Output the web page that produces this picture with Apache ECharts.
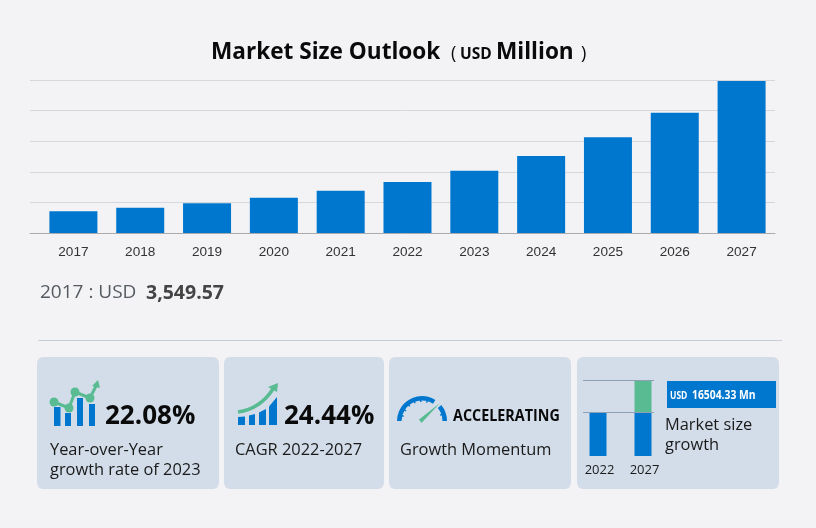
<!DOCTYPE html>
<html><head><meta charset="utf-8">
<style>html,body{margin:0;padding:0;background:#f3f3f6}#c{width:816px;height:528px}</style>
<script src="https://cdn.jsdelivr.net/npm/echarts@6/dist/echarts.min.js"></script>
</head><body><div id="c"></div>
<script>
const years = ['2017','2018','2019','2020','2021','2022','2023','2024','2025','2026','2027'];
const marketSize = [3549.57,4135,4853,5768,6912,8316,10152,12582,15637,19658,24820];
const miniYears = ['2022','2027'];
const miniBase = [44,44];
const miniGrowth = [0,32];
const BLUE='#0077cf', GREEN='#58bb92', CARD='#d3dde9';
const SANS='"Open Sans","Noto Sans",sans-serif';
const chart = echarts.init(document.getElementById('c'),null,{renderer:'canvas'});

function T(x,y,text,size,weight,color,sx){
  const el={type:'text',z:20,x:x,y:y,style:{text:text,font:(weight||'normal')+' '+size+'px '+SANS,fill:color||'#1a1a1a',verticalAlign:'middle'}};
  if(sx) el.scaleX=sx;
  return el;
}
function card(x,w){return {type:'rect',z:0,shape:{x:x,y:357,width:w,height:132,r:6},style:{fill:CARD}};}
function R(x,y,w,h,fill){return {type:'rect',z:15,shape:{x:x,y:y,width:w,height:h},style:{fill:fill||BLUE}};}
function L(x1,y1,x2,y2,stroke,lw){return {type:'line',z:15,shape:{x1:x1,y1:y1,x2:x2,y2:y2},style:{stroke:stroke,lineWidth:lw||1}};}
function poly(points,fill){return {type:'polygon',z:16,shape:{points:points},style:{fill:fill}};}
function dot(x,y,r){return {type:'circle',z:17,shape:{cx:x,cy:y,r:r},style:{fill:GREEN}};}

const gfx = [
  card(37,182),card(224,160),card(389,182),card(577,202),
  L(38,340.5,782,340.5,'#c6ccd9',1),
  // title
  T(211,53,'Market Size Outlook',22.6,'bold','#0a0a0a'),
  T(451,54,'(',18,'normal','#0a0a0a'),
  T(460,55,'USD',15.5,'bold','#0a0a0a'),
  T(496,53,'Million',22.6,'bold','#0a0a0a'),
  T(581,54,')',18,'normal','#0a0a0a'),
  // current value
  T(40,293,'2017 : USD',19,'normal','#555a60'),
  T(146,293,'3,549.57',19.5,'bold','#444'),
  // card 1
  R(54,407,6.5,19),R(65,413,6,13),R(77,398,6,28),R(89,404,6,22),
  {type:'polyline',z:16,shape:{points:[[54,402],[69,408],[75,392],[90,398],[96,386]]},style:{stroke:GREEN,lineWidth:3,fill:null}},
  dot(54,402,4.5),dot(69,408,4.5),dot(75,392,4.5),dot(90,398,4.5),
  poly([[98,380],[100,388],[92,386]],GREEN),
  T(105,417,'22.08%',26,'bold','#0a0a0a'),
  T(50,450,'Year-over-Year',16.4),
  T(50,470,'growth rate of 2023',16.4),
  // card 2
  poly([[238,417],[245,416.5],[245,425],[238,425]],BLUE),
  poly([[249,415.5],[255,414],[255,425],[249,425]],BLUE),
  poly([[259,412.5],[266,409],[266,425],[259,425]],BLUE),
  poly([[269,406.5],[277,397],[277,425],[269,425]],BLUE),
  {type:'bezierCurve',z:16,shape:{x1:238,y1:412,x2:273,y2:389,cpx1:260,cpy1:409},style:{stroke:GREEN,lineWidth:3.5,fill:null}},
  poly([[278,383],[277,392],[268,387]],GREEN),
  T(284,417,'24.44%',26,'bold','#0a0a0a'),
  T(235,450,'CAGR 2022-2027',16.4),
  // card 3
  {type:'sector',z:15,shape:{cx:422,cy:421,r:25,r0:20.5,startAngle:Math.PI,endAngle:Math.PI*1.68},style:{fill:BLUE}},
  {type:'sector',z:15,shape:{cx:422,cy:421,r:25,r0:20.5,startAngle:Math.PI*1.78,endAngle:Math.PI*2},style:{fill:BLUE}},
  ...[1.08,1.18,1.28,1.38,1.48,1.58,1.9].map(a=>L(422+Math.cos(a*Math.PI)*21,421+Math.sin(a*Math.PI)*21,422+Math.cos(a*Math.PI)*19,421+Math.sin(a*Math.PI)*19,BLUE,1.5)),
  poly([[419,419.5],[421.5,423],[440,403]],GREEN),
  T(453,417,'ACCELERATING',15.5,'bold','#0a0a0a',0.925),
  T(400,450,'Growth Momentum',16.4),
  // card 4
  L(583,380.5,654,380.5,'#8f9fb5',1),
  L(583,412.5,654,412.5,'#8f9fb5',1),
  R(667,381,109,27,BLUE),
  T(670,396,'USD',10,'bold','#fff',0.85),
  T(692,396,'16504.33 Mn',11.5,'bold','#fff',0.9),
  T(665,425,'Market size',16.4),
  T(665,445,'growth',16.4)
];

chart.setOption({
  animation:false,
  backgroundColor:'#f3f3f6',
  grid:[
    {left:40,top:80,width:735,height:153},
    {left:30,top:80,width:745,height:153},
    {left:575.5,top:380,width:90,height:76}
  ],
  xAxis:[
    {gridIndex:0,type:'category',data:years,axisLine:{show:false},axisTick:{show:false},
     axisLabel:{color:'#333',fontFamily:'"Liberation Sans",Arial,sans-serif',fontSize:13.6,margin:12}},
    {gridIndex:1,type:'value',min:0,max:1,axisLine:{show:true,onZero:false,lineStyle:{color:'#aaaaaf',width:1}},axisTick:{show:false},axisLabel:{show:false},splitLine:{show:false}},
    {gridIndex:2,type:'category',data:miniYears,axisLine:{show:false},axisTick:{show:false},
     axisLabel:{color:'#1a1a1a',fontFamily:SANS,fontSize:13,margin:8,padding:[0,0,0,3]}}
  ],
  yAxis:[
    {gridIndex:0,type:'value',min:0,max:25000,interval:5000,axisLine:{show:false},axisTick:{show:false},axisLabel:{show:false},splitLine:{show:false}},
    {gridIndex:1,type:'value',min:0,max:25000,interval:5000,axisLine:{show:false},axisTick:{show:false},axisLabel:{show:false},splitLine:{show:true,lineStyle:{color:'#d6d7dd',width:1}}},
    {gridIndex:2,type:'value',min:0,max:76,axisLine:{show:false},axisTick:{show:false},axisLabel:{show:false},splitLine:{show:false}}
  ],
  series:[
    {type:'bar',xAxisIndex:0,yAxisIndex:0,data:marketSize,barWidth:48,itemStyle:{color:BLUE},z:5},
    {type:'bar',stack:'m',xAxisIndex:2,yAxisIndex:2,data:miniBase,barWidth:17,itemStyle:{color:BLUE},z:5},
    {type:'bar',stack:'m',xAxisIndex:2,yAxisIndex:2,data:miniGrowth,barWidth:17,itemStyle:{color:GREEN},z:5}
  ],
  graphic:{elements:gfx}
});
</script></body></html>
